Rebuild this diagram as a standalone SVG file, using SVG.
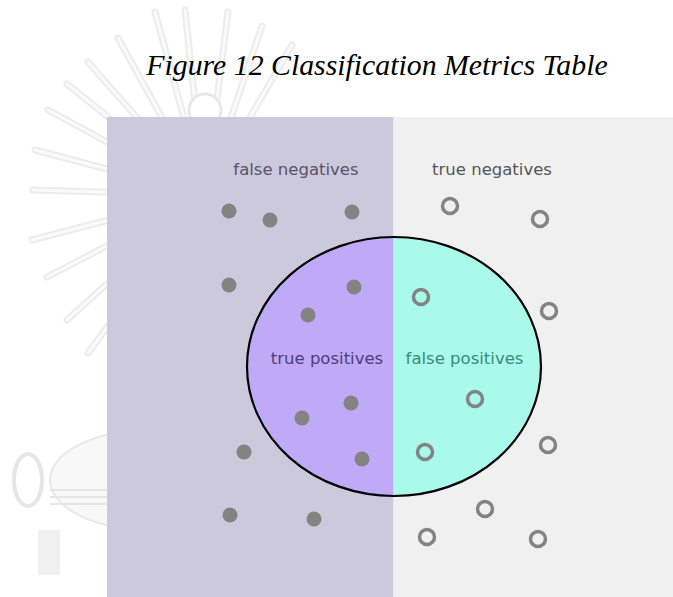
<svg xmlns="http://www.w3.org/2000/svg" width="673" height="597" viewBox="0 0 673 597">
<style>
.dot{fill:#838383}
.ring{fill:none;stroke:#838383;stroke-width:3.5}
.lbl{font-family:"DejaVu Sans",sans-serif;font-size:16.5px;text-anchor:middle}
.ray{stroke:#ececec;stroke-width:7;stroke-linecap:round}
.rayi{stroke:#fafafa;stroke-width:3;stroke-linecap:round}
</style>
<rect width="673" height="597" fill="#ffffff"/>
<g id="watermark">
<g class="ray">
<line x1="205" y1="195" x2="155" y2="12"/>
<line x1="205" y1="195" x2="185" y2="10"/>
<line x1="205" y1="195" x2="228" y2="12"/>
<line x1="205" y1="195" x2="262" y2="26"/>
<line x1="205" y1="195" x2="292" y2="45"/>
<line x1="205" y1="195" x2="118" y2="38"/>
<line x1="205" y1="195" x2="88" y2="62"/>
<line x1="205" y1="195" x2="67" y2="84"/>
<line x1="205" y1="195" x2="48" y2="110"/>
<line x1="205" y1="195" x2="35" y2="150"/>
<line x1="205" y1="195" x2="33" y2="190"/>
<line x1="205" y1="195" x2="32" y2="240"/>
<line x1="205" y1="195" x2="47" y2="277"/>
<line x1="205" y1="195" x2="67" y2="320"/>
<line x1="205" y1="195" x2="88" y2="353"/>
</g>
<g class="rayi">
<line x1="205" y1="195" x2="155" y2="12"/>
<line x1="205" y1="195" x2="185" y2="10"/>
<line x1="205" y1="195" x2="228" y2="12"/>
<line x1="205" y1="195" x2="262" y2="26"/>
<line x1="205" y1="195" x2="292" y2="45"/>
<line x1="205" y1="195" x2="118" y2="38"/>
<line x1="205" y1="195" x2="88" y2="62"/>
<line x1="205" y1="195" x2="67" y2="84"/>
<line x1="205" y1="195" x2="48" y2="110"/>
<line x1="205" y1="195" x2="35" y2="150"/>
<line x1="205" y1="195" x2="33" y2="190"/>
<line x1="205" y1="195" x2="32" y2="240"/>
<line x1="205" y1="195" x2="47" y2="277"/>
<line x1="205" y1="195" x2="67" y2="320"/>
<line x1="205" y1="195" x2="88" y2="353"/>
</g>
<circle cx="205" cy="110" r="16" fill="#ffffff" stroke="#e8e8e8" stroke-width="3"/>
<ellipse cx="150" cy="480" rx="100" ry="50" fill="#f8f8f8" stroke="#e8e8e8" stroke-width="2"/>
<g stroke="#e6e6e6" stroke-width="2">
<line x1="50" y1="490" x2="107" y2="490"/>
<line x1="50" y1="497" x2="107" y2="497"/>
<line x1="50" y1="504" x2="107" y2="504"/>
</g>
<ellipse cx="28" cy="480" rx="14" ry="26" fill="none" stroke="#e6e6e6" stroke-width="4"/>
<rect x="38" y="530" width="22" height="45" fill="#f0f0f0"/>
</g>
<text x="377" y="75" font-family="'Liberation Serif',serif" font-style="italic" font-size="29.8" text-anchor="middle" fill="#000">Figure 12 Classification Metrics Table</text>
<g id="panel-negative-actual">
<rect x="107" y="117" width="286.5" height="480" fill="#cdc9dc"/>
</g>
<g id="panel-positive-actual">
<rect x="393.5" y="117" width="279.5" height="480" fill="#f0f0f0"/>
</g>
<g id="selected-ellipse">
<clipPath id="cl"><rect x="0" y="0" width="393.5" height="597"/></clipPath>
<clipPath id="cr"><rect x="393.5" y="0" width="280" height="597"/></clipPath>
<ellipse cx="394" cy="366.5" rx="147" ry="129.5" fill="#c0a9f6" clip-path="url(#cl)"/>
<ellipse cx="394" cy="366.5" rx="147" ry="129.5" fill="#a9faea" clip-path="url(#cr)"/>
<ellipse cx="394" cy="366.5" rx="147" ry="129.5" fill="none" stroke="#000" stroke-width="2.2"/>
</g>
<g id="labels">
<text class="lbl" x="296" y="175" fill="#57526b">false negatives</text>
<text class="lbl" x="492" y="175" fill="#555555">true negatives</text>
<text class="lbl" x="327" y="364" fill="#4b3e7e">true positives</text>
<text class="lbl" x="464.5" y="364" fill="#3c8a7b">false positives</text>
</g>
<g id="positives">
<circle class="dot" cx="229" cy="211" r="7.5"/>
<circle class="dot" cx="270" cy="220" r="7.5"/>
<circle class="dot" cx="352" cy="212" r="7.5"/>
<circle class="dot" cx="229" cy="285" r="7.5"/>
<circle class="dot" cx="354" cy="287" r="7.5"/>
<circle class="dot" cx="308" cy="315" r="7.5"/>
<circle class="dot" cx="351" cy="403" r="7.5"/>
<circle class="dot" cx="302" cy="418" r="7.5"/>
<circle class="dot" cx="362" cy="459" r="7.5"/>
<circle class="dot" cx="244" cy="452" r="7.5"/>
<circle class="dot" cx="230" cy="515" r="7.5"/>
<circle class="dot" cx="314" cy="519" r="7.5"/>
</g>
<g id="negatives">
<circle class="ring" cx="450" cy="206" r="7.5"/>
<circle class="ring" cx="540" cy="219" r="7.5"/>
<circle class="ring" cx="421" cy="297" r="7.5"/>
<circle class="ring" cx="549" cy="311" r="7.5"/>
<circle class="ring" cx="475" cy="399" r="7.5"/>
<circle class="ring" cx="425" cy="452" r="7.5"/>
<circle class="ring" cx="548" cy="445" r="7.5"/>
<circle class="ring" cx="485" cy="509" r="7.5"/>
<circle class="ring" cx="427" cy="537" r="7.5"/>
<circle class="ring" cx="538" cy="539" r="7.5"/>
</g>
</svg>
